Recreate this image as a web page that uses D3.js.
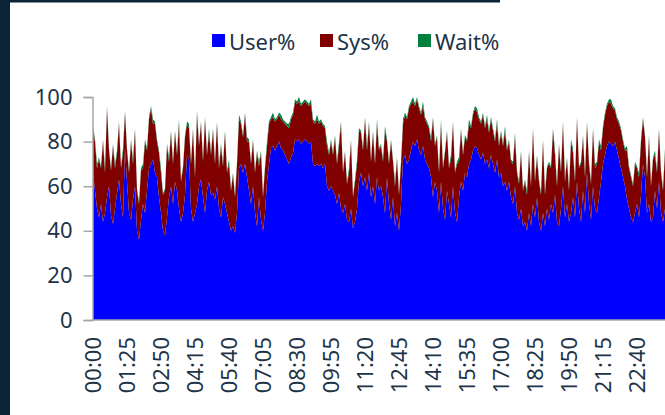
<!DOCTYPE html>
<html>
<head>
<meta charset="utf-8">
<script src="https://cdn.jsdelivr.net/npm/d3@7"></script>
<style>
  body { margin: 0; background: #fff; }
  svg { display: block; font-family: "Noto Sans", sans-serif; }
</style>
</head>
<body>
<div id="chart"></div>
<script>
// CPU utilisation, one value every 5 minutes (288 samples)
var userPct = [
  66,58,50,46,52,44,48,55,60,47,43,50,
  57,63,52,46,77,62,48,45,54,60,40,36,
  45,52,48,58,68,70,72,66,64,55,48,40,
  38,46,55,60,52,62,58,50,44,48,56,74,
  72,50,44,48,52,60,63,55,48,58,62,56,
  57,54,60,50,46,55,52,48,44,40,42,39,
  48,68,70,66,70,64,58,52,60,48,42,55,
  45,40,48,62,70,77,78,76,78,80,77,76,
  74,72,70,73,75,81,80,81,79,80,81,80,
  79,80,70,69,70,69,70,68,70,60,58,60,
  58,56,52,57,50,48,52,45,44,50,41,44,
  50,62,66,60,64,58,66,55,60,52,64,58,
  60,55,48,64,52,45,55,42,48,40,52,72,
  74,70,72,76,80,78,81,76,74,78,72,70,
  68,64,55,62,58,48,62,50,45,58,52,46,
  60,48,44,55,62,58,66,64,70,72,76,78,
  77,74,72,75,70,72,68,74,70,66,72,64,
  66,60,62,58,62,55,52,60,48,45,50,42,
  44,40,48,42,52,46,55,44,40,48,42,50,
  45,52,48,56,44,42,50,60,46,52,44,48,
  55,46,62,50,44,58,48,66,52,45,60,50,
  48,55,62,70,74,78,80,79,78,80,76,72,
  68,64,60,54,50,46,44,48,52,46,56,70,
  64,48,52,44,46,58,50,62,48,44,50,52
];

var sysPct = [
  20,22,18,26,16,36,18,40,16,20,35,18,
  18,25,16,29,16,14,18,35,16,25,18,16,
  22,16,32,18,22,25,16,22,16,20,18,16,
  20,32,16,24,18,22,16,38,18,20,26,14,
  14,20,41,16,40,18,25,16,42,16,22,18,
  28,16,28,18,32,14,32,18,26,18,23,16,
  22,22,18,16,22,16,22,18,20,18,33,14,
  30,15,20,16,18,13,13,13,12,12,13,13,
  14,15,16,17,17,17,17,17,17,17,17,17,
  17,17,19,19,20,19,19,19,16,18,16,20,
  16,26,18,21,38,18,23,16,22,30,14,18,
  20,23,18,16,26,18,22,16,24,18,24,18,
  18,16,37,16,18,35,16,18,24,16,18,16,
  18,20,23,21,18,18,18,19,18,18,18,18,
  18,16,35,16,24,18,26,18,30,26,16,26,
  28,18,26,16,23,16,16,16,18,14,16,17,
  16,16,16,17,16,18,16,16,15,14,16,14,
  18,18,23,18,18,16,18,22,18,16,25,16,
  18,16,27,18,33,16,18,18,16,32,14,18,
  25,16,37,18,16,36,16,28,16,20,14,32,
  20,16,28,18,26,24,16,22,18,16,25,18,
  22,25,14,16,18,18,18,18,17,14,14,16,
  17,16,16,22,18,18,16,22,16,18,24,20,
  18,16,30,16,26,16,16,23,18,14,25,18
];

var waitPct = [
  1,1,2,1,1,1,2,1,1,1,1,2,
  1,1,1,2,1,1,1,1,2,1,1,1,
  1,2,1,1,1,1,2,1,1,1,2,1,
  1,1,2,1,1,1,1,2,1,1,1,1,
  2,1,1,1,2,1,1,1,1,1,2,1,
  1,1,1,2,1,1,1,1,2,1,1,1,
  1,2,1,1,1,2,1,1,1,1,1,2,
  1,1,1,2,1,1,2,1,1,1,2,1,
  1,1,2,1,1,1,1,2,1,1,1,1,
  1,2,1,1,2,1,1,1,1,2,1,1,
  1,1,1,2,1,1,1,1,2,1,1,1,
  2,1,1,1,1,2,1,1,1,1,2,1,
  1,1,2,1,1,1,1,2,1,1,1,2,
  1,1,1,1,2,1,1,1,1,2,1,1,
  1,2,1,1,1,1,2,1,1,1,1,2,
  1,1,1,2,1,1,1,1,2,1,1,1,
  2,1,1,1,1,2,1,1,1,1,2,1,
  1,1,2,1,1,1,1,2,1,1,1,1,
  1,2,1,1,1,2,1,1,1,1,2,1,
  1,1,1,2,1,1,1,1,2,1,1,1,
  2,1,1,1,1,1,2,1,1,1,1,2,
  1,1,2,1,1,1,1,2,1,1,1,1,
  1,1,1,2,1,1,1,1,1,2,1,1,
  1,2,1,1,1,2,1,1,1,1,2,1
];

var tickLabels = ["00:00","01:25","02:50","04:15","05:40","07:05","08:30","09:55",
  "11:20","12:45","14:10","15:35","17:00","18:25","19:50","21:15","22:40"];
var yTicks = [0, 20, 40, 60, 80, 100];
var seriesNames = ["User%", "Sys%", "Wait%"];
var seriesColors = ["#0000ff", "#800000", "#00803f"];

var W = 665, H = 415;
var textColor = "#1d3448";
var fontSize = "22px";

// sample index from "hh:mm"
function slot(t) {
  var p = t.split(":");
  return (+p[0] * 60 + +p[1]) / 5;
}

var data = userPct.map(function(u, i) {
  return {i: i, "User%": u, "Sys%": sysPct[i], "Wait%": waitPct[i]};
});

var svg = d3.select("#chart").append("svg")
  .attr("width", W)
  .attr("height", H);

// frame bits from the slide
svg.append("rect").attr("x", 0).attr("y", 0).attr("width", 10).attr("height", H).attr("fill", "#0d2336");
svg.append("rect").attr("x", 0).attr("y", 0).attr("width", 500).attr("height", 2.5).attr("fill", "#0d2336");

var x = d3.scaleLinear()
  .domain([0, data.length - 1])
  .range([93, 93 + 2 * (data.length - 1)]);

var y = d3.scaleLinear()
  .domain([0, 100])
  .range([320, 97]);

var stacked = d3.stack().keys(seriesNames)(data);

var area = d3.area()
  .x(function(d) { return x(d.data.i); })
  .y0(function(d) { return y(d[0]); })
  .y1(function(d) { return y(d[1]); });

svg.append("g")
  .selectAll("path")
  .data(stacked)
  .join("path")
    .attr("fill", function(d, k) { return seriesColors[k]; })
    .attr("d", area);

// Y axis
var yAxis = svg.append("g")
  .attr("transform", "translate(92.5,0)")
  .call(d3.axisLeft(y).tickValues(yTicks).tickSize(9).tickPadding(11));
yAxis.select(".domain").attr("stroke", "#a6a6a6").attr("stroke-width", 1.5);
yAxis.selectAll(".tick line").attr("stroke", "#a6a6a6").attr("stroke-width", 1.5);
yAxis.selectAll(".tick text")
  .attr("fill", textColor)
  .style("font-size", fontSize)
  .style("font-family", "Noto Sans, sans-serif");

// X axis line
svg.append("line")
  .attr("x1", 92).attr("x2", W)
  .attr("y1", 320).attr("y2", 320)
  .attr("stroke", "#a6a6a6").attr("stroke-width", 1.5);

// X labels, rotated
svg.append("g")
  .selectAll("text")
  .data(tickLabels)
  .join("text")
    .attr("transform", function(d) { return "translate(" + (x(slot(d)) + 8) + ",337) rotate(-90)"; })
    .attr("text-anchor", "end")
    .attr("fill", textColor)
    .style("font-size", fontSize)
    .text(function(d) { return d; });

// legend
var legendX = [212, 320, 418];
var lg = svg.append("g")
  .selectAll("g")
  .data(seriesNames)
  .join("g")
    .attr("transform", function(d, k) { return "translate(" + legendX[k] + ",0)"; });
lg.append("rect")
  .attr("x", 0).attr("y", 34)
  .attr("width", 13).attr("height", 13)
  .attr("fill", function(d, k) { return seriesColors[k]; });
lg.append("text")
  .attr("x", 17).attr("y", 50)
  .attr("fill", textColor)
  .style("font-size", fontSize)
  .text(function(d) { return d; });
</script>
</body>
</html>
